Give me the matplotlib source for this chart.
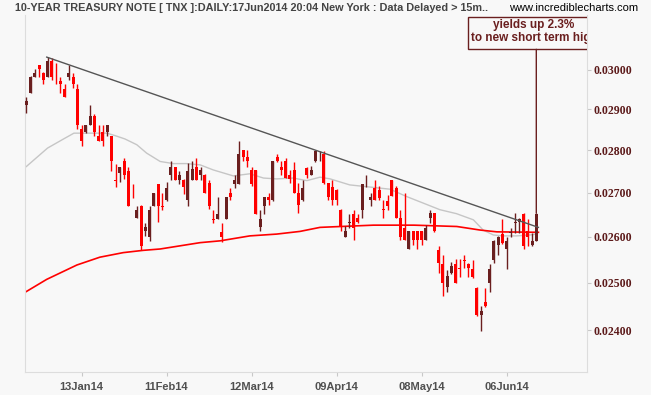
import matplotlib
matplotlib.use("Agg")
import matplotlib.pyplot as plt
import numpy as np
from matplotlib.ticker import FixedLocator, FormatStrFormatter, NullLocator
from matplotlib.patches import Rectangle

# daily OHLC of TNX, 23Dec13 .. 17Jun14 (trading days)
opens = [0.02911, 0.02941, 0.02982, 0.03011, 0.02992, 0.02982, 0.03022, 0.02992, 0.02971, 0.02951,
         0.02982, 0.02982, 0.02951, 0.02852, 0.02843, 0.02861, 0.02882, 0.02833, 0.02843, 0.02843,
         0.02833, 0.02729, 0.02746, 0.02773, 0.02751, 0.02691, 0.02642, 0.02670, 0.02612, 0.02600,
         0.02670, 0.02720, 0.02670, 0.02682, 0.02742, 0.02760, 0.02730, 0.02730, 0.02682, 0.02730,
         0.02761, 0.02742, 0.02742, 0.02723, 0.02640, 0.02640, 0.02611, 0.02640, 0.02700, 0.02720,
         0.02720, 0.02800, 0.02783, 0.02752, 0.02752, 0.02622, 0.02670, 0.02690, 0.02682, 0.02783,
         0.02761, 0.02773, 0.02742, 0.02752, 0.02700, 0.02682, 0.02758, 0.02742, 0.02773, 0.02790,
         0.02791, 0.02722, 0.02713, 0.02706, 0.02661, 0.02600, 0.02630, 0.02652, 0.02642, 0.02661,
         0.02719, 0.02682, 0.02710, 0.02706, 0.02662, 0.02680, 0.02729, 0.02710, 0.02642, 0.02619,
         0.02573, 0.02612, 0.02612, 0.02612, 0.02593, 0.02642, 0.02653, 0.02571, 0.02541, 0.02490,
         0.02520, 0.02541, 0.02531, 0.02549, 0.02541, 0.02530, 0.02489, 0.02431, 0.02459, 0.02500,
         0.02549, 0.02581, 0.02606, 0.02573, 0.02609, 0.02631, 0.02632, 0.02652, 0.02612, 0.02581,
         0.02591]
highs = [0.02930, 0.02984, 0.03001, 0.03012, 0.02993, 0.03033, 0.03030, 0.03016, 0.02982, 0.02962,
         0.03012, 0.02992, 0.02962, 0.02861, 0.02862, 0.02910, 0.02888, 0.02861, 0.02861, 0.02862,
         0.02834, 0.02768, 0.02761, 0.02782, 0.02761, 0.02720, 0.02670, 0.02671, 0.02631, 0.02670,
         0.02700, 0.02721, 0.02700, 0.02725, 0.02773, 0.02761, 0.02751, 0.02731, 0.02770, 0.02773,
         0.02782, 0.02761, 0.02743, 0.02730, 0.02661, 0.02690, 0.02631, 0.02691, 0.02710, 0.02742,
         0.02823, 0.02801, 0.02800, 0.02761, 0.02753, 0.02661, 0.02691, 0.02700, 0.02774, 0.02791,
         0.02773, 0.02781, 0.02752, 0.02772, 0.02722, 0.02730, 0.02761, 0.02763, 0.02801, 0.02799,
         0.02799, 0.02723, 0.02730, 0.02708, 0.02662, 0.02623, 0.02652, 0.02661, 0.02652, 0.02721,
         0.02742, 0.02699, 0.02730, 0.02716, 0.02683, 0.02695, 0.02730, 0.02716, 0.02661, 0.02699,
         0.02613, 0.02613, 0.02613, 0.02613, 0.02627, 0.02661, 0.02654, 0.02580, 0.02560, 0.02528,
         0.02545, 0.02551, 0.02551, 0.02560, 0.02542, 0.02549, 0.02490, 0.02450, 0.02489, 0.02541,
         0.02592, 0.02602, 0.02640, 0.02599, 0.02619, 0.02653, 0.02642, 0.02653, 0.02640, 0.02609,
         0.02653]
lows = [0.02891, 0.02940, 0.02981, 0.02982, 0.02962, 0.02981, 0.02972, 0.02963, 0.02941, 0.02930,
        0.02972, 0.02952, 0.02852, 0.02811, 0.02842, 0.02860, 0.02833, 0.02822, 0.02811, 0.02833,
        0.02751, 0.02713, 0.02725, 0.02732, 0.02669, 0.02688, 0.02641, 0.02571, 0.02602, 0.02591,
        0.02669, 0.02632, 0.02661, 0.02681, 0.02730, 0.02729, 0.02720, 0.02697, 0.02670, 0.02729,
        0.02729, 0.02730, 0.02699, 0.02662, 0.02631, 0.02639, 0.02589, 0.02639, 0.02682, 0.02710,
        0.02719, 0.02773, 0.02761, 0.02716, 0.02651, 0.02612, 0.02652, 0.02672, 0.02681, 0.02772,
        0.02742, 0.02733, 0.02722, 0.02699, 0.02653, 0.02681, 0.02735, 0.02741, 0.02772, 0.02773,
        0.02721, 0.02683, 0.02672, 0.02672, 0.02612, 0.02599, 0.02619, 0.02593, 0.02631, 0.02642,
        0.02713, 0.02670, 0.02682, 0.02683, 0.02642, 0.02661, 0.02692, 0.02641, 0.02593, 0.02592,
        0.02572, 0.02582, 0.02573, 0.02582, 0.02592, 0.02631, 0.02611, 0.02520, 0.02471, 0.02480,
        0.02519, 0.02499, 0.02512, 0.02531, 0.02512, 0.02511, 0.02430, 0.02399, 0.02449, 0.02481,
        0.02542, 0.02560, 0.02585, 0.02530, 0.02599, 0.02609, 0.02609, 0.02573, 0.02580, 0.02580,
        0.02590]
closes = [0.02921, 0.02982, 0.02992, 0.03001, 0.02972, 0.03022, 0.02982, 0.02990, 0.02962, 0.02931,
          0.02992, 0.02962, 0.02861, 0.02823, 0.02861, 0.02882, 0.02843, 0.02823, 0.02823, 0.02861,
          0.02773, 0.02727, 0.02760, 0.02742, 0.02670, 0.02689, 0.02661, 0.02580, 0.02621, 0.02661,
          0.02699, 0.02670, 0.02668, 0.02710, 0.02760, 0.02730, 0.02742, 0.02713, 0.02751, 0.02756,
          0.02730, 0.02752, 0.02700, 0.02670, 0.02638, 0.02651, 0.02600, 0.02690, 0.02691, 0.02730,
          0.02791, 0.02783, 0.02773, 0.02720, 0.02652, 0.02640, 0.02690, 0.02682, 0.02773, 0.02773,
          0.02752, 0.02734, 0.02732, 0.02700, 0.02672, 0.02710, 0.02742, 0.02752, 0.02799, 0.02792,
          0.02722, 0.02691, 0.02683, 0.02682, 0.02623, 0.02612, 0.02632, 0.02619, 0.02632, 0.02720,
          0.02721, 0.02690, 0.02683, 0.02688, 0.02660, 0.02670, 0.02693, 0.02642, 0.02600, 0.02593,
          0.02612, 0.02593, 0.02593, 0.02593, 0.02619, 0.02653, 0.02612, 0.02542, 0.02500, 0.02514,
          0.02535, 0.02500, 0.02529, 0.02547, 0.02531, 0.02512, 0.02431, 0.02441, 0.02450, 0.02530,
          0.02591, 0.02599, 0.02586, 0.02591, 0.02611, 0.02633, 0.02640, 0.02580, 0.02600, 0.02591,
          0.02652]

tick_days = [13, 33, 53, 73, 93, 113]
tick_labels = ['13Jan14', '11Feb14', '12Mar14', '09Apr14', '08May14', '06Jun14']
price_ticks = [0.024, 0.025, 0.026, 0.027, 0.028, 0.029, 0.030]

# short moving average (grey), read at a few days
ma_short_days = [0, 5, 8.6, 11.2, 15, 19, 20.9, 23.2, 26, 28.3, 31.5, 34.6, 37.7, 40.9, 44, 48.7,
                 52.6, 55.8, 58.9, 62.8, 66, 69.1, 71.5, 76.1, 80.9, 85.6, 89.5, 93.4, 97.3, 101.2,
                 105.2, 107.5, 109.9, 112.2, 115.4, 118.5, 120]
ma_short = [0.02761, 0.02805, 0.02826, 0.02841, 0.02841, 0.02841, 0.02835, 0.02827, 0.02813, 0.02793,
            0.02773, 0.02768, 0.02768, 0.02765, 0.02753, 0.02739, 0.02744, 0.02734, 0.02732, 0.02734,
            0.02728, 0.02736, 0.02732, 0.02718, 0.02713, 0.02708, 0.02691, 0.02676, 0.02661, 0.02652,
            0.02638, 0.02615, 0.02604, 0.02602, 0.02602, 0.02604, 0.02606]

# long moving average (red)
ma_long_days = [0, 4.8, 11.9, 17.3, 22.8, 27.5, 31.5, 36.2, 40.9, 45.6, 52.6, 58.9, 64.4, 69.1, 71.5,
                81.7, 91.2, 101.3, 106.8, 110.7, 120.5]
ma_long = [0.02481, 0.02507, 0.02538, 0.02555, 0.02565, 0.02570, 0.02573, 0.02580, 0.02587, 0.02591,
           0.02602, 0.02606, 0.02612, 0.02621, 0.02622, 0.02626, 0.02626, 0.02623, 0.02615, 0.02611,
           0.02610]

trend_days = [4.8, 120.5]
trend_vals = [0.03032, 0.02621]

BG = '#f8f8f8'
UP = '#6a1f1f'
DOWN = '#ff0000'
W, H = 651, 395

fig = plt.figure(figsize=(W / 100, H / 100), dpi=100, facecolor=BG)
ax = fig.add_axes([24.7 / W, 1 - 372 / H, 562 / W, 357 / H])
ax.set_facecolor(BG)
ax.set_yscale('log')
ax.set_xlim(-0.38, 131.86)
ax.set_ylim(0.02316, 0.031432)

o = np.array(opens)
c = np.array(closes)
days = np.arange(len(c))
cols = np.where(c >= o, UP, DOWN)

ax.plot(ma_short_days, ma_short, color='#c6c6c6', lw=1, zorder=2)
ax.plot(ma_long_days, ma_long, color='#ff0000', lw=1.2, zorder=2)

ax.vlines(days, lows, highs, colors=cols, lw=1, zorder=3)
bottom = np.minimum(o, c)
height = np.maximum(np.abs(c - o), 0.000015)
ax.bar(days, height, width=0.72, bottom=bottom, color=cols, lw=0, zorder=4)

ax.plot(trend_days, trend_vals, color='#555555', lw=1, zorder=5)

# note box at top right (cut off by the price axis like the original)
ax.add_patch(Rectangle((0.7893, 0.9039), 0.3, 0.0897, transform=ax.transAxes,
                       fill=False, ec=UP, lw=1, zorder=6))
ax.text(0.9052, 0.9711, 'yields up 2.3%', transform=ax.transAxes, ha='center', va='center',
        fontsize=8.5, fontweight='bold', color=UP, family='Liberation Sans', clip_on=True)
ax.text(0.9066, 0.9356, 'to new short term high', transform=ax.transAxes, ha='center',
        va='center', fontsize=8.5, fontweight='bold', color=UP, family='Liberation Sans',
        clip_on=True)
ax.annotate('', xy=(days[-1], highs[-1]), xytext=(days[-1], 0.9039),
            textcoords=('data', 'axes fraction'),
            arrowprops=dict(arrowstyle='-', color=UP, lw=1, shrinkA=0, shrinkB=0))

for s in ['left', 'bottom', 'right']:
    ax.spines[s].set_color('#dddddd')
ax.spines['top'].set_visible(False)

ax.yaxis.tick_right()
ax.yaxis.set_major_locator(FixedLocator(price_ticks))
ax.yaxis.set_minor_locator(NullLocator())
ax.yaxis.set_major_formatter(FormatStrFormatter('%.5f'))
ax.tick_params(axis='y', length=3, width=0.8, color='#c8c8c8', pad=2,
               labelsize=8.5, labelcolor='#5c1a1a')
for lbl in ax.get_yticklabels():
    lbl.set_family('Liberation Serif')
    lbl.set_fontweight('bold')

ax.set_xticks(tick_days, tick_labels)
ax.xaxis.set_minor_locator(NullLocator())
ax.tick_params(axis='x', length=3, width=0.8, color='#c8c8c8', pad=4,
               labelsize=8, labelcolor='#505050')
for lbl in ax.get_xticklabels():
    lbl.set_family('Liberation Sans')
    lbl.set_fontweight('bold')

fig.text(15 / W, 1 - 8 / H,
         '10-YEAR TREASURY NOTE [ TNX ]:DAILY:17Jun2014 20:04 New York : Data Delayed > 15m..',
         ha='left', va='center', fontsize=7.8, fontweight='bold', color='#444444',
         family='Liberation Sans')
fig.text(638.3 / W, 1 - 8 / H, 'www.incrediblecharts.com', ha='right', va='center',
         fontsize=8, color='black', family='Liberation Sans')

fig.savefig('out.png', dpi=100, facecolor=BG)
